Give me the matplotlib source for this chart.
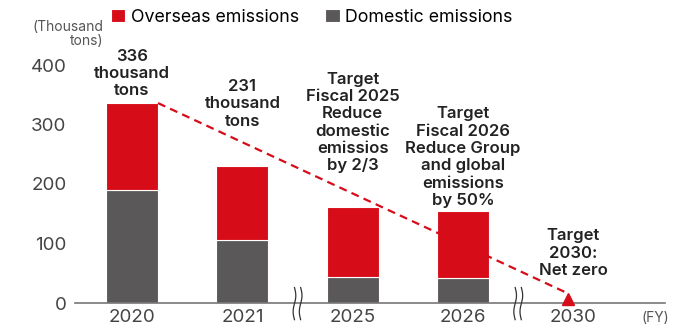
import numpy as np
import matplotlib
matplotlib.use("Agg")
import matplotlib.pyplot as plt

plt.rcParams["font.family"] = ["Inter", "DejaVu Sans"]

years = ["2020", "2021", "2025", "2026", "2030"]
domestic = [190, 106, 44, 42, 0]
overseas = [146, 125, 117, 113, 0]
notes = [
    "336\nthousand\ntons",
    "231\nthousand\ntons",
    "Target\nFiscal 2025\nReduce\ndomestic\nemissios\nby 2/3",
    "Target\nFiscal 2026\nReduce Group\nand global\nemissions\nby 50%",
    "Target\n2030:\nNet zero",
]
note_y = [344, 293, 218, 160, 42]
yticks = [0, 100, 200, 300, 400]

RED = "#d70c19"
GRAY = "#5a5858"
TXT = "#222222"

fig = plt.figure(figsize=(6.78, 3.31), dpi=100)
ax = fig.add_axes([75 / 678, 28 / 331, 590 / 678, 440 * 0.595 / 331])

x = np.arange(len(years))
w = 0.47
b1 = ax.bar(x[:4], domestic[:4], w, color=GRAY, edgecolor="white", linewidth=0.8,
            label="Domestic emissions", zorder=2)
b2 = ax.bar(x[:4], overseas[:4], w, bottom=domestic[:4], color=RED, edgecolor="white",
            linewidth=0.8, label="Overseas emissions", zorder=2)

# dashed trend line from 2020 total to net zero
total0 = domestic[0] + overseas[0]
ax.plot([x[0] + w / 2, x[4] - 0.06], [total0, 17], color=RED, lw=1.6,
        dashes=(3.6, 2.4), zorder=3)
ax.plot([x[4] - 0.05], [7.5], marker="^", color=RED, markersize=9, zorder=4,
        clip_on=False)

for xi, note, ny in zip(x, notes, note_y):
    ax.text(xi, ny, note, ha="center", va="bottom", fontsize=12, fontweight="semibold",
            color=TXT, linespacing=1.19)

# axis break marks
t = np.linspace(-1, 1, 50)
for xb in [1.5, 3.5]:
    for dx in [-0.028, 0.028]:
        ax.plot(xb + dx + 0.012 * np.sin(t * np.pi), t * 27 - 1, color="#333333",
                lw=0.9, clip_on=False, zorder=5)

ax.set_xlim(-0.517, 4.83)
ax.set_ylim(0, 440)
ax.set_xticks(x)
ax.set_xticklabels(years)
ax.set_yticks(yticks)
ax.tick_params(axis="both", length=0, labelsize=13.5, colors="#444444")
ax.tick_params(axis="y", pad=6)
ax.tick_params(axis="x", pad=4)
for s in ["left", "right", "top"]:
    ax.spines[s].set_visible(False)
ax.spines["bottom"].set_color("#777777")
ax.spines["bottom"].set_linewidth(1.2)

fig.text(103 / 678, 1 - 20 / 331, "(Thousand\ntons)", ha="right", va="top",
         fontsize=10, color="#555555", multialignment="right", linespacing=1.0)
fig.text(655 / 678, 1 - 318 / 331, "(FY)", ha="center", va="center",
         fontsize=10, color="#555555")

fig.legend(handles=[b2, b1], labels=["Overseas emissions", "Domestic emissions"],
           loc="center left", bbox_to_anchor=(111 / 678, 1 - 17 / 331), ncol=2,
           frameon=False, fontsize=12.8, handlelength=0.8, handleheight=0.8,
           handletextpad=0.3, columnspacing=1.5, borderaxespad=0, borderpad=0)

fig.savefig("out.png", dpi=100)
